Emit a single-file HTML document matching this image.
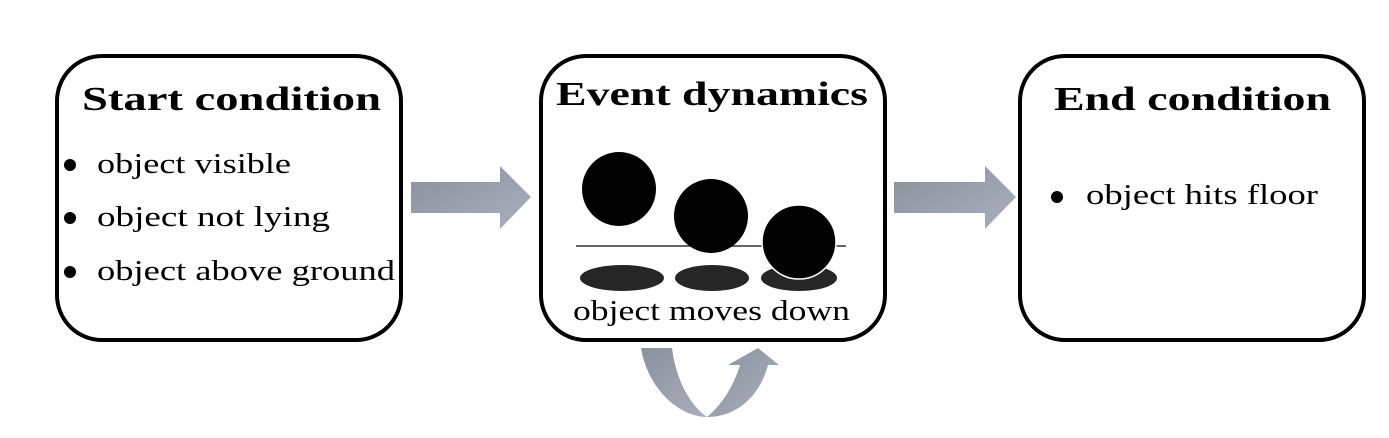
<!DOCTYPE html>
<html><head><meta charset="utf-8"><style>body{margin:0;background:#fff}svg{display:block}</style></head>
<body>
<svg width="1389" height="438" viewBox="0 0 1389 438" xmlns="http://www.w3.org/2000/svg" font-family="Liberation Serif, serif">
<defs><linearGradient id="g" x1="0" y1="0" x2="1" y2="1"><stop offset="0" stop-color="#8a909c"/><stop offset="1" stop-color="#a9afbc"/></linearGradient></defs>
<g fill="none" stroke="#000" stroke-width="4">
<rect x="57" y="56" width="344" height="284" rx="45"/>
<rect x="541" y="56" width="344" height="284" rx="45"/>
<rect x="1020" y="56" width="344" height="284" rx="45"/>
</g>
<g font-weight="bold" font-size="34">
<text x="82" y="110" textLength="299" lengthAdjust="spacingAndGlyphs">Start condition</text>
<text x="556" y="105" textLength="312" lengthAdjust="spacingAndGlyphs">Event dynamics</text>
<text x="1054" y="110" textLength="277" lengthAdjust="spacingAndGlyphs">End condition</text>
</g>
<g font-size="28">
<circle cx="70" cy="165" r="6"/><text x="97" y="173" textLength="194" lengthAdjust="spacingAndGlyphs">object visible</text>
<circle cx="70" cy="218" r="6"/><text x="97" y="226" textLength="233" lengthAdjust="spacingAndGlyphs">object not lying</text>
<circle cx="70" cy="272" r="6"/><text x="97" y="280" textLength="298" lengthAdjust="spacingAndGlyphs">object above ground</text>
<circle cx="1057" cy="197" r="6"/><text x="1086" y="204" textLength="232" lengthAdjust="spacingAndGlyphs">object hits floor</text>
<text x="573" y="320" textLength="277" lengthAdjust="spacingAndGlyphs">object moves down</text>
</g>
<line x1="576" y1="246" x2="846" y2="246" stroke="#333" stroke-width="1.5"/>
<ellipse cx="622" cy="278" rx="42" ry="13" fill="#262626"/>
<ellipse cx="712" cy="278" rx="37" ry="13" fill="#262626"/>
<ellipse cx="799" cy="278" rx="38" ry="13" fill="#262626"/>
<circle cx="619" cy="189" r="37"/>
<circle cx="711" cy="216" r="37"/>
<circle cx="799" cy="242" r="37" stroke="#fff" stroke-width="1.5"/>
<path d="M411 182H500V166L531 197L500 229V213H411Z" fill="url(#g)"/>
<path d="M894 182H985V166L1016 197L985 229V213H894Z" fill="url(#g)"/>
<path d="M641 348H672C676 380 690 405 707 417C680 417 648 390 641 348Z" fill="url(#g)"/>
<path d="M707 417C722 405 734 385 740 365H728L758 348L779 365H768C760 395 738 417 707 417Z" fill="url(#g)"/>
</svg>
</body></html>
